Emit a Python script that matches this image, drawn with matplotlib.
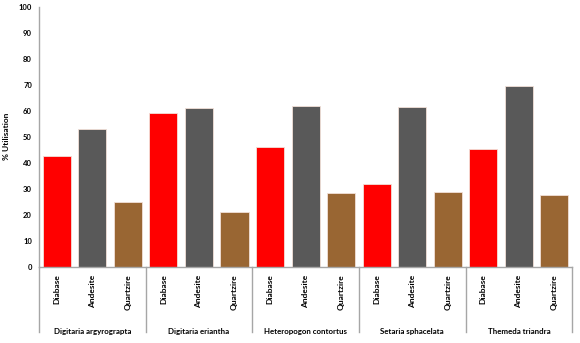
import numpy as np
import matplotlib.pyplot as plt
from matplotlib.transforms import blended_transform_factory

plt.rcParams['font.family'] = ['Lato', 'DejaVu Sans']

species = ['Digitaria argyrograpta', 'Digitaria eriantha', 'Heteropogon contortus',
           'Setaria sphacelata', 'Themeda triandra']
rocks = ['Diabase', 'Andesite', 'Quartzire']
diabase = [42.5, 59.2, 46.2, 31.9, 45.1]
andesite = [52.8, 60.9, 61.9, 61.3, 69.5]
quartzire = [25.0, 21.2, 28.2, 28.8, 27.5]
colors = ['#FF0000', '#595959', '#996633']

fig = plt.figure(figsize=(5.8, 3.43), dpi=100)
ax = fig.add_axes([0.0672, 0.2224, 0.9193, 0.758])

vals = np.array([diabase, andesite, quartzire]).T.ravel()
cols = colors * len(species)
x = np.arange(len(vals))
ax.bar(x, vals, width=0.79, color=cols, edgecolor='#F2E0D8', linewidth=0.6)

ax.set_xlim(-0.5, len(vals) - 0.5)
ax.set_ylim(0, 100)
ax.set_yticks(range(0, 101, 10))
ax.tick_params(axis='y', length=0, labelsize=5.5, pad=5)
for lab in ax.get_yticklabels():
    lab.set_fontweight('bold')
ax.set_xticks([])
for s in ['top', 'right']:
    ax.spines[s].set_visible(False)
for s in ['left', 'bottom']:
    ax.spines[s].set_color('#A6A6A6')
    ax.spines[s].set_linewidth(1.0)
ax.set_ylabel('% Utilisation', fontsize=6, fontweight='bold', labelpad=6)

# multi-level category axis
tr = blended_transform_factory(ax.transData, ax.transAxes)
for i, v in enumerate(x):
    ax.text(v, -0.03, rocks[i % 3], transform=tr, rotation=90, ha='center', va='top',
            fontsize=6, fontweight='bold', clip_on=False)
for g, name in enumerate(species):
    ax.text(3 * g + 1, -0.25, name, transform=tr, ha='center', va='center',
            fontsize=5.7, fontweight='bold', clip_on=False)
for g in range(len(species) + 1):
    ax.plot([3 * g - 0.5] * 2, [0, -0.25], transform=tr, color='#A6A6A6',
            lw=1.0, clip_on=False)

fig.savefig('out.png', dpi=100)
